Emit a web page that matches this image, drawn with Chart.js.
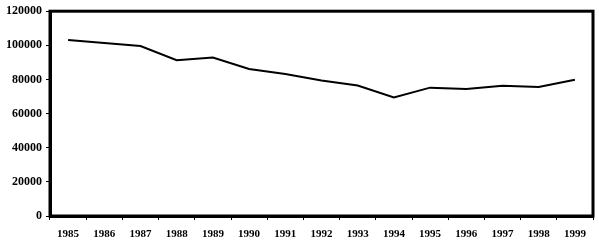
<!DOCTYPE html>
<html><head><meta charset="utf-8">
<script src="https://cdn.jsdelivr.net/npm/chart.js@4"></script>
<style>html,body{margin:0;padding:0;background:#fff}#wrap{width:599px;height:243px}</style>
</head><body><div id="wrap"><canvas id="c"></canvas></div>
<script>
const years = ['1985','1986','1987','1988','1989','1990','1991','1992','1993','1994','1995','1996','1997','1998','1999'];
const values = [103100,101300,99600,91300,92900,86100,83200,79400,76500,69400,75200,74400,76300,75600,79800];
const yTicks = [0,20000,40000,60000,80000,100000,120000];

const frame = {
  id:'frame',
  afterDraw(chart){
    const a = chart.chartArea, ctx = chart.ctx;
    ctx.save(); ctx.strokeStyle='#000'; ctx.lineWidth=3;
    ctx.strokeRect(a.left, a.top, a.right-a.left, a.bottom-a.top);
    ctx.restore();
  }
};
new Chart(document.getElementById('c'), {
  type:'line',
  data:{labels:years, datasets:[{data:values, borderColor:'#000', borderWidth:2, pointRadius:0, tension:0, fill:false}]},
  options:{
    responsive:true, maintainAspectRatio:false, animation:false,
    layout:{padding:{top:2,right:6,left:0,bottom:0}},
    plugins:{legend:{display:false}, tooltip:{enabled:false}},
    scales:{
      x:{offset:true,
        afterFit(s){ s.height = 27; },
        grid:{drawOnChartArea:false, drawTicks:true, tickLength:4, color:'#000', offset:true},
        border:{display:true, color:'#000', width:3},
        ticks:{color:'#000', font:{family:'Liberation Serif', size:11, weight:'bold'}, maxRotation:0, autoSkip:false, padding:8}},
      y:{min:0, max:120000,
        afterFit(s){ s.width = 50; },
        afterBuildTicks(s){ s.ticks = yTicks.map(v=>({value:v})); },
        grid:{drawOnChartArea:false, drawTicks:true, tickLength:4, color:'#000'},
        border:{display:true, color:'#000', width:3},
        ticks:{color:'#000', font:{family:'Liberation Serif', size:12, weight:'bold'}, padding:4, callback:v=>String(v)}}
    }
  },
  plugins:[frame]
});
</script></body></html>
